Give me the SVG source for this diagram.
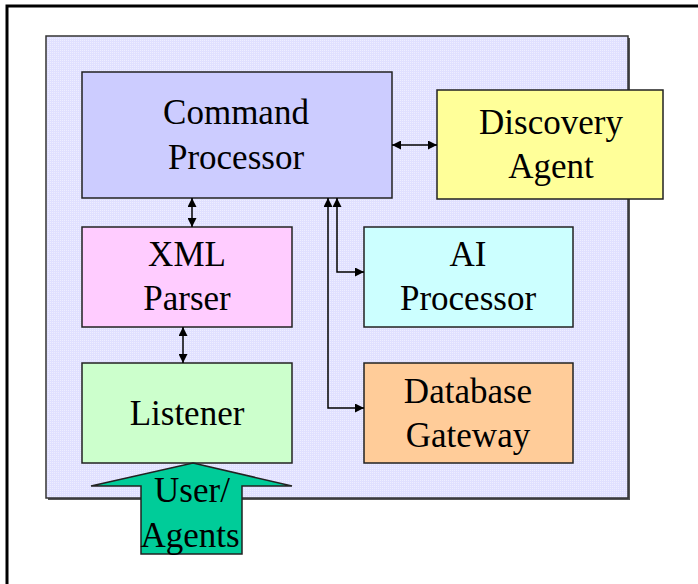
<svg xmlns="http://www.w3.org/2000/svg" width="698" height="584" viewBox="0 0 698 584">
<defs>
<pattern id="dots" width="2" height="2" patternUnits="userSpaceOnUse">
<rect width="2" height="2" fill="#E0E0FF"/>
<rect width="1" height="1" fill="#EEEEFF"/>
</pattern>
<marker id="ah" viewBox="0 0 10 10" refX="10" refY="5" markerWidth="10" markerHeight="9" markerUnits="userSpaceOnUse" orient="auto-start-reverse">
<path d="M0,0 L10,5 L0,10 z" fill="#000"/>
</marker>
</defs>
<style>
.box{stroke:#222;stroke-width:1.5}
.t{font-family:"Liberation Serif","Times New Roman",serif;font-size:35px;fill:#000;text-anchor:middle}
.c{fill:none;stroke:#000;stroke-width:1.5}
</style>
<rect width="698" height="584" fill="#fff"/>
<path d="M7,584 V6 H698" fill="none" stroke="#000" stroke-width="3"/>
<g id="panel">
<rect x="48" y="38" width="582" height="462" fill="#555"/>
<rect x="46" y="36" width="582" height="462" fill="url(#dots)" stroke="#333" stroke-width="1.5"/>
</g>
<g id="command-processor">
<rect class="box" x="82" y="72" width="310" height="126" fill="#CCCCFF"/>
<text class="t" x="236" y="124">Command</text>
<text class="t" x="236" y="169">Processor</text>
</g>
<g id="discovery-agent">
<rect class="box" x="437" y="90" width="226" height="109" fill="#FFFF99"/>
<text class="t" x="551" y="134">Discovery</text>
<text class="t" x="551" y="178">Agent</text>
</g>
<g id="xml-parser">
<rect class="box" x="82" y="227" width="210" height="100" fill="#FFCCFF"/>
<text class="t" x="187" y="266">XML</text>
<text class="t" x="187" y="310">Parser</text>
</g>
<g id="ai-processor">
<rect class="box" x="364" y="227" width="209" height="100" fill="#CCFFFF"/>
<text class="t" x="468" y="266">AI</text>
<text class="t" x="468" y="310">Processor</text>
</g>
<g id="listener">
<rect class="box" x="82" y="363" width="210" height="100" fill="#CCFFCC"/>
<text class="t" x="187" y="425">Listener</text>
</g>
<g id="database-gateway">
<rect class="box" x="364" y="363" width="209" height="100" fill="#FFCC99"/>
<text class="t" x="468" y="403">Database</text>
<text class="t" x="468" y="447">Gateway</text>
</g>
<g id="connectors">
<line class="c" x1="392" y1="145" x2="437" y2="145" marker-start="url(#ah)" marker-end="url(#ah)"/>
<line class="c" x1="192" y1="198" x2="192" y2="227" marker-start="url(#ah)" marker-end="url(#ah)"/>
<line class="c" x1="183" y1="327" x2="183" y2="363" marker-start="url(#ah)" marker-end="url(#ah)"/>
<polyline class="c" points="337,198 337,272 364,272" marker-start="url(#ah)" marker-end="url(#ah)"/>
<polyline class="c" points="328,198 328,408 364,408" marker-start="url(#ah)" marker-end="url(#ah)"/>
</g>
<g id="user-agents">
<polygon points="193,463 292,486 242,486 242,554 141,554 141,486 91,486" fill="#00CC99" stroke="#222" stroke-width="1.5"/>
<text class="t" x="192" y="502">User/</text>
<text class="t" x="190" y="547">Agents</text>
</g>
</svg>
